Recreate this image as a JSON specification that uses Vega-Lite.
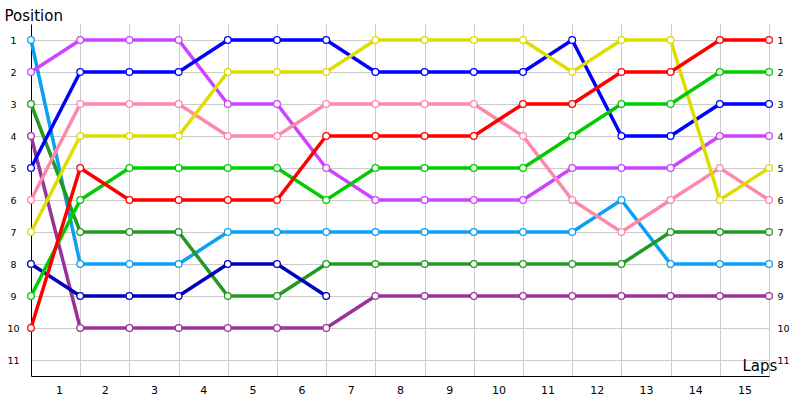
{
  "$schema": "https://vega.github.io/schema/vega-lite/v6.json",
  "width": 738,
  "height": 352,
  "autosize": "none",
  "padding": {"left": 31, "top": 24, "right": 31, "bottom": 24},
  "background": "white",
  "config": {"font": "DejaVu Sans", "view": {"stroke": null}},
  "data": {
    "values": [
      {"car": "skyblue", "lap": 0, "pos": 1}, {"car": "skyblue", "lap": 1, "pos": 8}, {"car": "skyblue", "lap": 2, "pos": 8}, {"car": "skyblue", "lap": 3, "pos": 8},
      {"car": "skyblue", "lap": 4, "pos": 7}, {"car": "skyblue", "lap": 5, "pos": 7}, {"car": "skyblue", "lap": 6, "pos": 7}, {"car": "skyblue", "lap": 7, "pos": 7},
      {"car": "skyblue", "lap": 8, "pos": 7}, {"car": "skyblue", "lap": 9, "pos": 7}, {"car": "skyblue", "lap": 10, "pos": 7}, {"car": "skyblue", "lap": 11, "pos": 7},
      {"car": "skyblue", "lap": 12, "pos": 6}, {"car": "skyblue", "lap": 13, "pos": 8}, {"car": "skyblue", "lap": 14, "pos": 8}, {"car": "skyblue", "lap": 15, "pos": 8},

      {"car": "magenta", "lap": 0, "pos": 2}, {"car": "magenta", "lap": 1, "pos": 1}, {"car": "magenta", "lap": 2, "pos": 1}, {"car": "magenta", "lap": 3, "pos": 1},
      {"car": "magenta", "lap": 4, "pos": 3}, {"car": "magenta", "lap": 5, "pos": 3}, {"car": "magenta", "lap": 6, "pos": 5}, {"car": "magenta", "lap": 7, "pos": 6},
      {"car": "magenta", "lap": 8, "pos": 6}, {"car": "magenta", "lap": 9, "pos": 6}, {"car": "magenta", "lap": 10, "pos": 6}, {"car": "magenta", "lap": 11, "pos": 5},
      {"car": "magenta", "lap": 12, "pos": 5}, {"car": "magenta", "lap": 13, "pos": 5}, {"car": "magenta", "lap": 14, "pos": 4}, {"car": "magenta", "lap": 15, "pos": 4},

      {"car": "darkgreen", "lap": 0, "pos": 3}, {"car": "darkgreen", "lap": 1, "pos": 7}, {"car": "darkgreen", "lap": 2, "pos": 7}, {"car": "darkgreen", "lap": 3, "pos": 7},
      {"car": "darkgreen", "lap": 4, "pos": 9}, {"car": "darkgreen", "lap": 5, "pos": 9}, {"car": "darkgreen", "lap": 6, "pos": 8}, {"car": "darkgreen", "lap": 7, "pos": 8},
      {"car": "darkgreen", "lap": 8, "pos": 8}, {"car": "darkgreen", "lap": 9, "pos": 8}, {"car": "darkgreen", "lap": 10, "pos": 8}, {"car": "darkgreen", "lap": 11, "pos": 8},
      {"car": "darkgreen", "lap": 12, "pos": 8}, {"car": "darkgreen", "lap": 13, "pos": 7}, {"car": "darkgreen", "lap": 14, "pos": 7}, {"car": "darkgreen", "lap": 15, "pos": 7},

      {"car": "purple", "lap": 0, "pos": 4}, {"car": "purple", "lap": 1, "pos": 10}, {"car": "purple", "lap": 2, "pos": 10}, {"car": "purple", "lap": 3, "pos": 10},
      {"car": "purple", "lap": 4, "pos": 10}, {"car": "purple", "lap": 5, "pos": 10}, {"car": "purple", "lap": 6, "pos": 10}, {"car": "purple", "lap": 7, "pos": 9},
      {"car": "purple", "lap": 8, "pos": 9}, {"car": "purple", "lap": 9, "pos": 9}, {"car": "purple", "lap": 10, "pos": 9}, {"car": "purple", "lap": 11, "pos": 9},
      {"car": "purple", "lap": 12, "pos": 9}, {"car": "purple", "lap": 13, "pos": 9}, {"car": "purple", "lap": 14, "pos": 9}, {"car": "purple", "lap": 15, "pos": 9},

      {"car": "blue", "lap": 0, "pos": 5}, {"car": "blue", "lap": 1, "pos": 2}, {"car": "blue", "lap": 2, "pos": 2}, {"car": "blue", "lap": 3, "pos": 2},
      {"car": "blue", "lap": 4, "pos": 1}, {"car": "blue", "lap": 5, "pos": 1}, {"car": "blue", "lap": 6, "pos": 1}, {"car": "blue", "lap": 7, "pos": 2},
      {"car": "blue", "lap": 8, "pos": 2}, {"car": "blue", "lap": 9, "pos": 2}, {"car": "blue", "lap": 10, "pos": 2}, {"car": "blue", "lap": 11, "pos": 1},
      {"car": "blue", "lap": 12, "pos": 4}, {"car": "blue", "lap": 13, "pos": 4}, {"car": "blue", "lap": 14, "pos": 3}, {"car": "blue", "lap": 15, "pos": 3},

      {"car": "pink", "lap": 0, "pos": 6}, {"car": "pink", "lap": 1, "pos": 3}, {"car": "pink", "lap": 2, "pos": 3}, {"car": "pink", "lap": 3, "pos": 3},
      {"car": "pink", "lap": 4, "pos": 4}, {"car": "pink", "lap": 5, "pos": 4}, {"car": "pink", "lap": 6, "pos": 3}, {"car": "pink", "lap": 7, "pos": 3},
      {"car": "pink", "lap": 8, "pos": 3}, {"car": "pink", "lap": 9, "pos": 3}, {"car": "pink", "lap": 10, "pos": 4}, {"car": "pink", "lap": 11, "pos": 6},
      {"car": "pink", "lap": 12, "pos": 7}, {"car": "pink", "lap": 13, "pos": 6}, {"car": "pink", "lap": 14, "pos": 5}, {"car": "pink", "lap": 15, "pos": 6},

      {"car": "yellow", "lap": 0, "pos": 7}, {"car": "yellow", "lap": 1, "pos": 4}, {"car": "yellow", "lap": 2, "pos": 4}, {"car": "yellow", "lap": 3, "pos": 4},
      {"car": "yellow", "lap": 4, "pos": 2}, {"car": "yellow", "lap": 5, "pos": 2}, {"car": "yellow", "lap": 6, "pos": 2}, {"car": "yellow", "lap": 7, "pos": 1},
      {"car": "yellow", "lap": 8, "pos": 1}, {"car": "yellow", "lap": 9, "pos": 1}, {"car": "yellow", "lap": 10, "pos": 1}, {"car": "yellow", "lap": 11, "pos": 2},
      {"car": "yellow", "lap": 12, "pos": 1}, {"car": "yellow", "lap": 13, "pos": 1}, {"car": "yellow", "lap": 14, "pos": 6}, {"car": "yellow", "lap": 15, "pos": 5},

      {"car": "navy", "lap": 0, "pos": 8}, {"car": "navy", "lap": 1, "pos": 9}, {"car": "navy", "lap": 2, "pos": 9}, {"car": "navy", "lap": 3, "pos": 9},
      {"car": "navy", "lap": 4, "pos": 8}, {"car": "navy", "lap": 5, "pos": 8}, {"car": "navy", "lap": 6, "pos": 9},

      {"car": "green", "lap": 0, "pos": 9}, {"car": "green", "lap": 1, "pos": 6}, {"car": "green", "lap": 2, "pos": 5}, {"car": "green", "lap": 3, "pos": 5},
      {"car": "green", "lap": 4, "pos": 5}, {"car": "green", "lap": 5, "pos": 5}, {"car": "green", "lap": 6, "pos": 6}, {"car": "green", "lap": 7, "pos": 5},
      {"car": "green", "lap": 8, "pos": 5}, {"car": "green", "lap": 9, "pos": 5}, {"car": "green", "lap": 10, "pos": 5}, {"car": "green", "lap": 11, "pos": 4},
      {"car": "green", "lap": 12, "pos": 3}, {"car": "green", "lap": 13, "pos": 3}, {"car": "green", "lap": 14, "pos": 2}, {"car": "green", "lap": 15, "pos": 2},

      {"car": "red", "lap": 0, "pos": 10}, {"car": "red", "lap": 1, "pos": 5}, {"car": "red", "lap": 2, "pos": 6}, {"car": "red", "lap": 3, "pos": 6},
      {"car": "red", "lap": 4, "pos": 6}, {"car": "red", "lap": 5, "pos": 6}, {"car": "red", "lap": 6, "pos": 4}, {"car": "red", "lap": 7, "pos": 4},
      {"car": "red", "lap": 8, "pos": 4}, {"car": "red", "lap": 9, "pos": 4}, {"car": "red", "lap": 10, "pos": 3}, {"car": "red", "lap": 11, "pos": 3},
      {"car": "red", "lap": 12, "pos": 2}, {"car": "red", "lap": 13, "pos": 2}, {"car": "red", "lap": 14, "pos": 1}, {"car": "red", "lap": 15, "pos": 1}
    ]
  },
  "encoding": {
    "x": {
      "field": "lap",
      "type": "quantitative",
      "scale": {"domain": [0, 15], "nice": false, "zero": false},
      "axis": {
        "values": [0, 1, 2, 3, 4, 5, 6, 7, 8, 9, 10, 11, 12, 13, 14, 15],
        "labelExpr": "datum.value < 15 ? datum.value + 1 : ''",
        "labelOffset": 24.6,
        "labelFontSize": 11,
        "labelColor": "black",
        "labelPadding": 8,
        "ticks": false,
        "domainColor": "black",
        "grid": true,
        "gridColor": "#cccccc",
        "title": "Laps",
        "titleX": 711,
        "titleY": -6,
        "titleAlign": "left",
        "titleBaseline": "alphabetic",
        "titleFontSize": 15,
        "titleFontWeight": "normal",
        "titleColor": "black"
      }
    },
    "y": {
      "field": "pos",
      "type": "quantitative",
      "scale": {"domain": [0.5, 11.5], "reverse": true, "nice": false, "zero": false}
    },
    "color": {
      "field": "car",
      "type": "nominal",
      "scale": {
        "domain": ["skyblue", "magenta", "darkgreen", "purple", "blue", "pink", "yellow", "navy", "green", "red"],
        "range": ["#0aa0f5", "#cc44ff", "#229922", "#993399", "#0000ff", "#ff88aa", "#dddd00", "#0000bb", "#00cc00", "#ff0000"]
      },
      "legend": null
    }
  },
  "layer": [
    {
      "mark": {"type": "line", "strokeWidth": 3.5},
      "encoding": {
        "y": {
          "field": "pos",
          "type": "quantitative",
          "axis": {
            "values": [1, 2, 3, 4, 5, 6, 7, 8, 9, 10, 11],
            "labelFontSize": 9.5,
            "labelColor": "black",
            "labelAlign": "center",
            "labelPadding": 18,
            "ticks": false,
            "domainColor": "black",
            "grid": true,
            "gridColor": "#cccccc",
            "title": "Position",
            "titleAngle": 0,
            "titleAlign": "left",
            "titleBaseline": "alphabetic",
            "titleX": -27,
            "titleY": -4,
            "titleFontSize": 15,
            "titleFontWeight": "normal",
            "titleColor": "black"
          }
        }
      }
    },
    {
      "mark": {"type": "point", "shape": "circle", "filled": false, "fill": "white", "fillOpacity": 1, "opacity": 1, "size": 45, "strokeWidth": 1.3},
      "encoding": {
        "y": {
          "field": "pos",
          "type": "quantitative",
          "axis": {
            "orient": "right",
            "values": [1, 2, 3, 4, 5, 6, 7, 8, 9, 10, 11],
            "labelFontSize": 9.5,
            "labelColor": "black",
            "labelPadding": 8,
            "ticks": false,
            "domain": false,
            "grid": false,
            "title": null
          }
        }
      }
    }
  ],
  "resolve": {"axis": {"y": "independent"}}
}
